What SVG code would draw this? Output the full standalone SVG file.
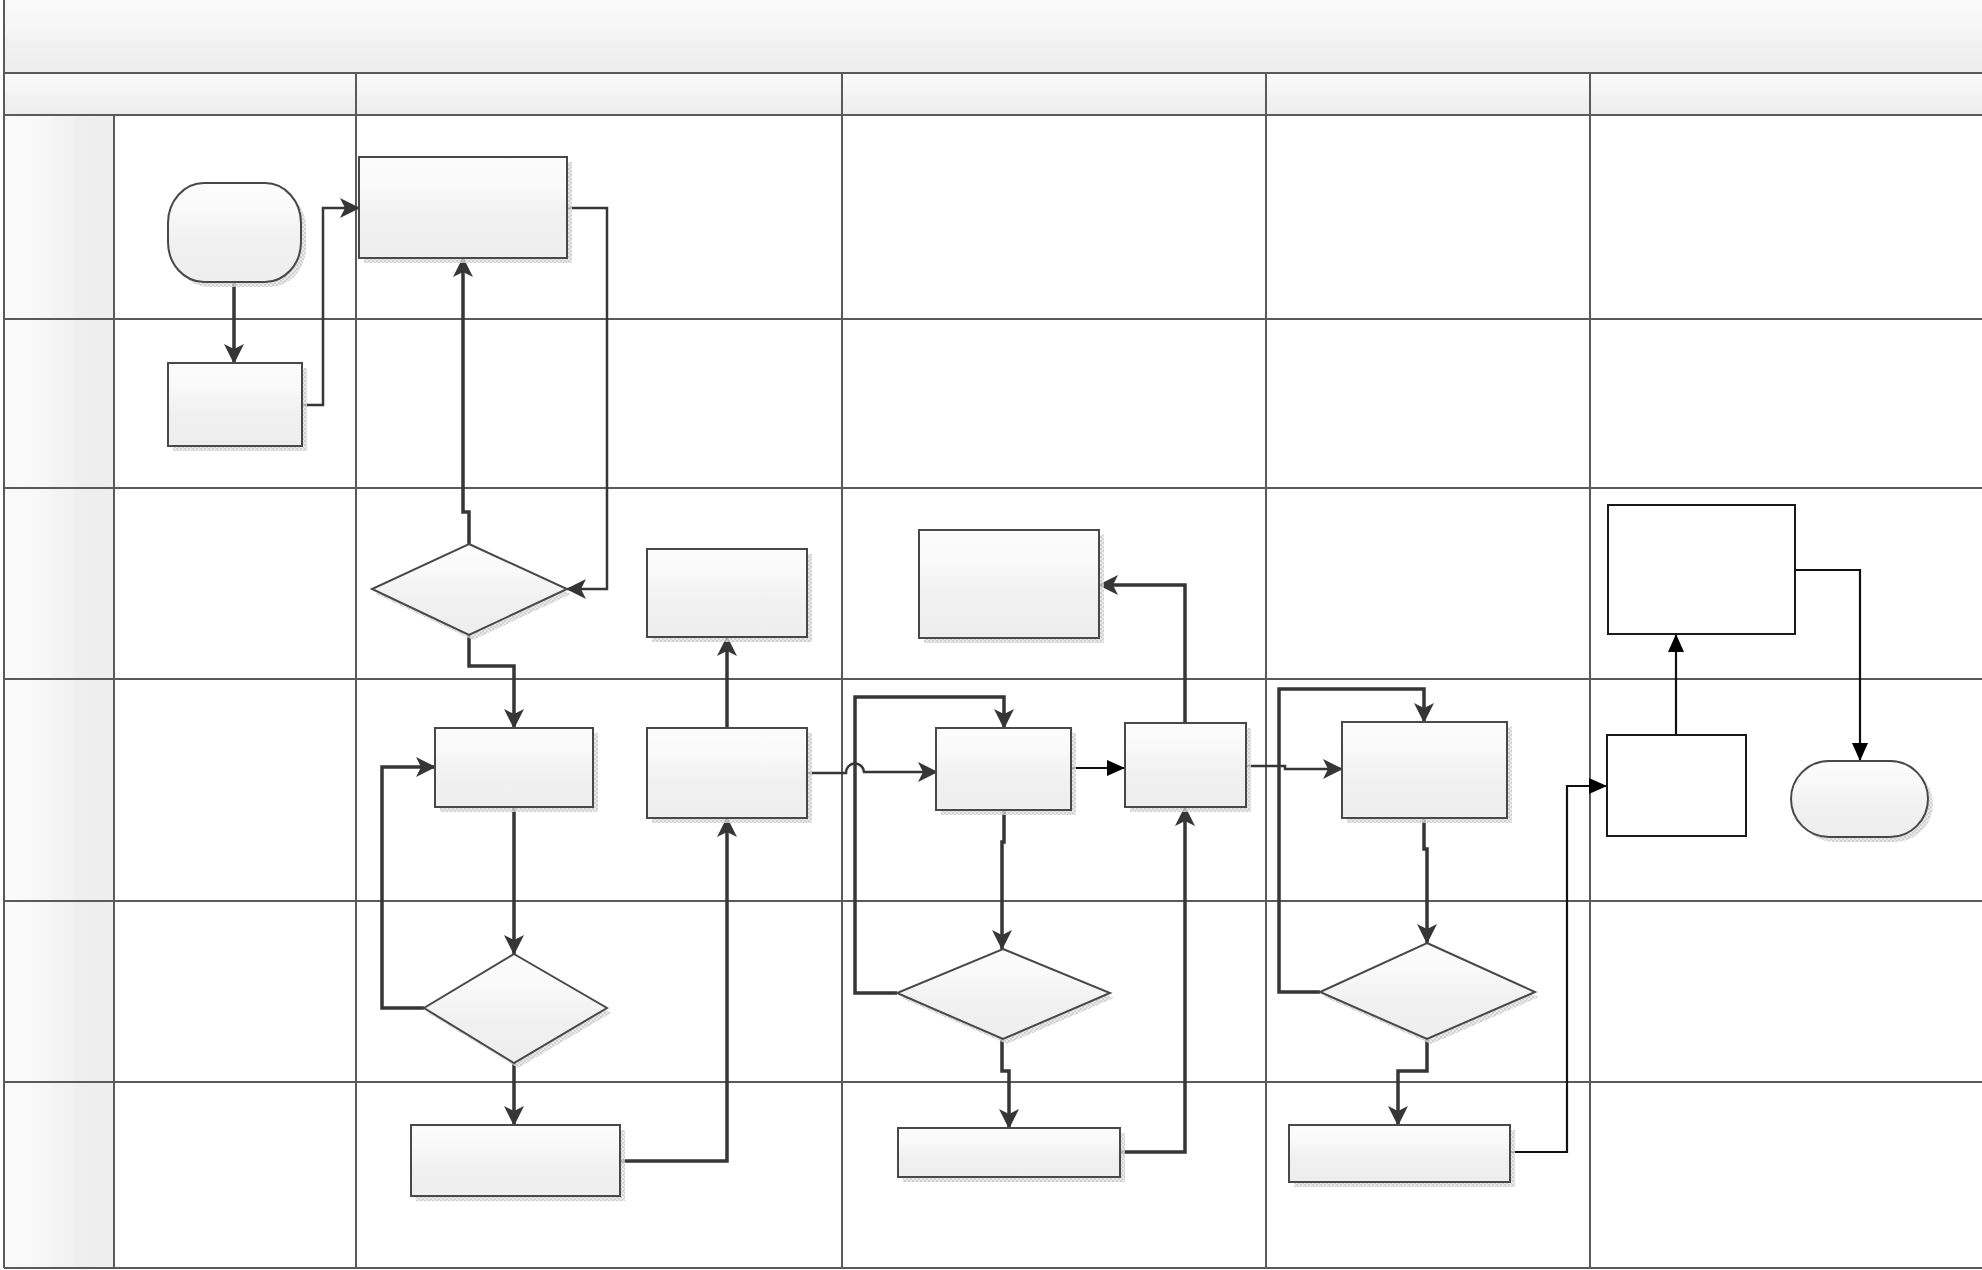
<svg xmlns="http://www.w3.org/2000/svg" width="1982" height="1270" viewBox="0 0 1982 1270">
<defs>
  <linearGradient id="gBox" x1="0" y1="0" x2="0" y2="1">
    <stop offset="0" stop-color="#fcfcfc"/>
    <stop offset="0.3" stop-color="#f9f9f9"/>
    <stop offset="0.45" stop-color="#f4f4f4"/>
    <stop offset="0.65" stop-color="#f0f0f0"/>
    <stop offset="1" stop-color="#eeeeee"/>
  </linearGradient>
  <linearGradient id="gBand" x1="0" y1="0" x2="0" y2="1">
    <stop offset="0" stop-color="#fafafa"/>
    <stop offset="0.45" stop-color="#f5f5f5"/>
    <stop offset="0.6" stop-color="#f1f1f1"/>
    <stop offset="1" stop-color="#ededed"/>
  </linearGradient>
  <linearGradient id="gLane" x1="0" y1="0" x2="1" y2="0">
    <stop offset="0" stop-color="#fafafa"/>
    <stop offset="0.42" stop-color="#f7f7f7"/>
    <stop offset="0.46" stop-color="#f3f3f3"/>
    <stop offset="0.62" stop-color="#f2f2f2"/>
    <stop offset="0.66" stop-color="#efefef"/>
    <stop offset="1" stop-color="#eeeeee"/>
  </linearGradient>
  <pattern id="pShadow" width="4" height="4" patternUnits="userSpaceOnUse">
    <rect width="4" height="4" fill="#e4e4e4"/>
    <rect width="2" height="2" fill="#c4c4c4"/>
    <rect x="2" y="2" width="2" height="2" fill="#cccccc"/>
  </pattern>
  <marker id="aGray" viewBox="0 0 20 20" refX="19" refY="10" markerWidth="20" markerHeight="20" markerUnits="userSpaceOnUse" orient="auto">
    <path d="M0,0 L20,10 L0,20 L5,10 Z" fill="#363636"/>
  </marker>
  <marker id="aBlack" viewBox="0 0 18 16" refX="18" refY="8" markerWidth="18" markerHeight="16" markerUnits="userSpaceOnUse" orient="auto">
    <path d="M0,0 L18,8 L0,16 Z" fill="#000000"/>
  </marker>
  <style>
    .grid { stroke: #5a5a5a; stroke-width: 2; fill: none; }
    .box { fill: url(#gBox); stroke: #484848; stroke-width: 2; }
    .plain { fill: #ffffff; stroke: #1a1a1a; stroke-width: 2; }
    .shadow { fill: url(#pShadow); opacity: 0.8; }
    .thick { stroke: #363636; stroke-width: 3.5; fill: none; marker-end: url(#aGray); }
    .med { stroke: #363636; stroke-width: 2.5; fill: none; marker-end: url(#aGray); }
    .blk { stroke: #111111; stroke-width: 2.2; fill: none; marker-end: url(#aBlack); }
  </style>
</defs>

<rect x="0" y="0" width="1982" height="1270" fill="#ffffff"/>

<g id="pool">
  <rect x="4" y="-2" width="1982" height="75" fill="url(#gBand)"/>
  <rect x="4" y="73" width="1982" height="42" fill="url(#gBand)"/>
  <rect x="4" y="115" width="110" height="1153" fill="url(#gLane)"/>
  <path class="grid" d="M4,-2 V1268 M4,73 H1982 M4,115 H1982 M4,1268 H1982"/>
  <path class="grid" d="M114,115 V1268 M356,73 V1268 M842,73 V1268 M1266,73 V1268 M1590,73 V1268"/>
  <path class="grid" d="M4,319 H1982 M4,488 H1982 M4,679 H1982 M4,901 H1982 M4,1082 H1982"/>
</g>

<g id="connectors">
  <path class="thick" d="M234,282 V363"/>
  <path class="med" d="M302,405 H323 V208 H359"/>
  <path class="med" d="M567,208 H607 V589 H567"/>
  <path class="thick" d="M469,544 V512 H463 V258"/>
  <path class="thick" d="M469,635 V666 H514 V728"/>
  <path class="thick" d="M514,807 V954"/>
  <path class="thick" d="M424,1008 H382 V767 H435"/>
  <path class="thick" d="M514,1063 V1125"/>
  <path class="thick" d="M620,1161 H727 V818"/>
  <path class="thick" d="M727,728 V637"/>
  <path class="med" d="M807,773 H846 A9,9 0 0 1 864,772 H937"/>
  <path class="thick" d="M1004,810 V842 H1002 V949"/>
  <path class="thick" d="M897,993 H855 V697 H1004 V728"/>
  <path class="thick" d="M1002,1038 V1071 H1009 V1128"/>
  <path class="blk" d="M1071,768 H1125"/>
  <path class="thick" d="M1120,1152 H1185 V807"/>
  <path class="thick" d="M1185,723 V585 H1099"/>
  <path class="med" d="M1246,766 H1285 V769 H1342"/>
  <path class="thick" d="M1424,818 V849 H1427 V943"/>
  <path class="thick" d="M1320,992 H1279 V689 H1424 V722"/>
  <path class="thick" d="M1427,1039 V1071 H1398 V1125"/>
  <path class="blk" d="M1510,1152 H1567 V786 H1607"/>
  <path class="blk" d="M1676,735 V634"/>
  <path class="blk" d="M1795,570 H1860 V761"/>
</g>

<g id="start">
  <rect class="shadow" x="173" y="188" width="133" height="99" rx="36" ry="40"/>
  <rect class="box" x="168" y="183" width="133" height="99" rx="36" ry="40"/>
</g>
<g id="nodeA">
  <rect class="shadow" x="364" y="162" width="208" height="101"/>
  <rect class="box" x="359" y="157" width="208" height="101"/>
</g>
<g id="nodeB">
  <rect class="shadow" x="173" y="368" width="134" height="83"/>
  <rect class="box" x="168" y="363" width="134" height="83"/>
</g>
<g id="decision1">
  <polygon class="shadow" points="473,549 571,594 473,640 376,594"/>
  <polygon class="box" points="469,544 567,589 469,635 372,589"/>
</g>
<g id="nodeC">
  <rect class="shadow" x="652" y="554" width="160" height="88"/>
  <rect class="box" x="647" y="549" width="160" height="88"/>
</g>
<g id="nodeE">
  <rect class="shadow" x="924" y="535" width="180" height="108"/>
  <rect class="box" x="919" y="530" width="180" height="108"/>
</g>
<g id="nodeF">
  <rect class="plain" x="1608" y="505" width="187" height="129"/>
</g>
<g id="nodeG">
  <rect class="shadow" x="440" y="733" width="158" height="79"/>
  <rect class="box" x="435" y="728" width="158" height="79"/>
</g>
<g id="nodeH">
  <rect class="shadow" x="652" y="733" width="160" height="90"/>
  <rect class="box" x="647" y="728" width="160" height="90"/>
</g>
<g id="nodeI">
  <rect class="shadow" x="941" y="733" width="135" height="82"/>
  <rect class="box" x="936" y="728" width="135" height="82"/>
</g>
<g id="nodeJ">
  <rect class="shadow" x="1130" y="728" width="121" height="84"/>
  <rect class="box" x="1125" y="723" width="121" height="84"/>
</g>
<g id="nodeK">
  <rect class="shadow" x="1347" y="727" width="165" height="96"/>
  <rect class="box" x="1342" y="722" width="165" height="96"/>
</g>
<g id="nodeL">
  <rect class="plain" x="1607" y="735" width="139" height="101"/>
</g>
<g id="end">
  <rect class="shadow" x="1796" y="766" width="137" height="76" rx="38"/>
  <rect class="box" x="1791" y="761" width="137" height="76" rx="38"/>
</g>
<g id="decision2">
  <polygon class="shadow" points="518,959 611,1013 518,1068 428,1013"/>
  <polygon class="box" points="514,954 607,1008 514,1063 424,1008"/>
</g>
<g id="decision3">
  <polygon class="shadow" points="1007,954 1114,998 1007,1044 901,998"/>
  <polygon class="box" points="1003,949 1110,993 1003,1039 897,993"/>
</g>
<g id="decision4">
  <polygon class="shadow" points="1431,948 1539,997 1431,1044 1324,997"/>
  <polygon class="box" points="1427,943 1535,992 1427,1039 1320,992"/>
</g>
<g id="nodeM">
  <rect class="shadow" x="416" y="1130" width="209" height="71"/>
  <rect class="box" x="411" y="1125" width="209" height="71"/>
</g>
<g id="nodeN">
  <rect class="shadow" x="903" y="1133" width="222" height="49"/>
  <rect class="box" x="898" y="1128" width="222" height="49"/>
</g>
<g id="nodeO">
  <rect class="shadow" x="1294" y="1130" width="221" height="57"/>
  <rect class="box" x="1289" y="1125" width="221" height="57"/>
</g>
</svg>
